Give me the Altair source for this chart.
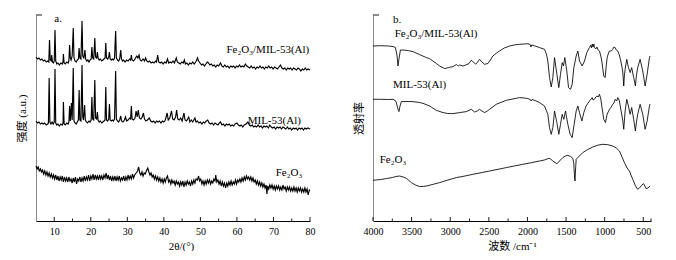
import altair as alt
import pandas as pd

FONT = "'Liberation Serif', 'Times New Roman', 'Noto Sans CJK SC', serif"

# ---------------- XRD (panel a) ----------------
xrd_composite = [
    (5.0,164),(5.4,162),(5.8,163),(6.2,161),(6.6,162),(7.0,160),(7.4,161),(7.8,159),(8.2,160),(8.5,159),
    (8.7,181),(8.9,161),(9.2,160),(9.3,166),(9.5,159),(9.8,158),(10.0,160),(10.2,191),(10.4,160),(10.7,157),
    (11.0,158),(11.4,156),(11.8,158),(12.2,157),(12.4,159),(12.5,167),(12.7,158),(13.0,157),(13.4,159),(13.8,158),
    (14.0,160),(14.2,176),(14.4,163),(14.6,161),(14.9,165),(15.2,193),(15.4,163),(15.7,160),(16.0,159),(16.3,161),
    (16.6,162),(16.8,173),(17.0,163),(17.3,162),(17.6,200),(17.8,165),(18.1,163),(18.4,171),(18.6,162),(18.9,160),
    (19.2,161),(19.5,159),(19.8,161),(20.1,162),(20.3,174),(20.5,163),(20.8,162),(21.1,183),(21.3,164),(21.6,163),
    (21.8,169),(22.0,163),(22.3,161),(22.6,162),(23.0,160),(23.3,161),(23.6,162),(23.9,163),(24.1,178),(24.3,163),
    (24.6,162),(24.9,164),(25.1,169),(25.3,162),(25.6,161),(25.9,162),(26.2,161),(26.5,163),(26.8,190),(27.0,163),
    (27.3,161),(27.6,160),(27.9,162),(28.2,171),(28.4,162),(28.7,160),(29.0,161),(29.4,159),(29.8,161),(30.2,160),
    (30.6,162),(30.9,161),(31.1,166),(31.3,161),(31.7,160),(32.1,162),(32.4,164),(32.6,165),(32.9,163),(33.2,166),
    (33.5,161),(33.9,160),(34.3,162),(34.7,160),(35.0,163),(35.3,160),(35.7,159),(36.1,160),(36.5,158),(36.9,159),
    (37.3,158),(37.7,160),(38.0,159),(38.3,166),(38.6,159),(39.0,158),(39.4,159),(39.8,157),(40.2,159),(40.6,158),
    (41.0,162),(41.3,158),(41.7,159),(42.1,158),(42.5,160),(42.9,158),(43.4,163),(43.7,159),(44.1,158),(44.5,157),
    (44.9,159),(45.3,158),(45.6,161),(45.9,157),(46.3,158),(46.7,156),(47.1,158),(47.5,157),(47.9,159),(48.3,157),
    (48.7,159),(49.0,161),(49.2,163),(49.5,160),(49.9,158),(50.3,156),(50.7,157),(51.1,155),(51.5,157),(51.9,159),
    (52.2,158),(52.6,156),(53.0,157),(53.4,155),(53.8,156),(54.2,154),(54.6,156),(55.0,155),(55.5,158),(55.9,155),
    (56.3,154),(56.7,156),(57.1,154),(57.5,155),(57.9,153),(58.3,155),(58.7,154),(59.1,155),(59.5,153),(59.9,155),
    (60.3,154),(60.7,156),(61.1,154),(61.5,155),(61.9,154),(62.3,157),(62.7,155),(63.1,154),(63.5,153),(63.9,155),
    (64.3,153),(64.7,154),(65.1,152),(65.5,154),(65.9,153),(66.3,155),(66.7,153),(67.1,154),(67.5,152),(67.9,154),
    (68.3,153),(68.7,155),(69.1,153),(69.5,154),(69.9,152),(70.3,154),(70.7,153),(71.1,152),(71.5,154),(71.9,156),
    (72.3,153),(72.7,152),(73.1,153),(73.5,151),(73.9,153),(74.3,152),(74.7,153),(75.1,151),(75.5,153),(75.9,152),
    (76.3,151),(76.7,153),(77.1,152),(77.5,150),(77.9,152),(78.3,151),(78.7,153),(79.1,151),(79.5,152),(80.0,151),
]

xrd_mil53 = [
    (5.0,100),(5.4,98),(5.8,99),(6.2,97),(6.6,98),(7.0,97),(7.4,98),(7.8,96),(8.2,97),(8.4,98),
    (8.6,143),(8.8,99),(9.1,97),(9.4,99),(9.7,97),(10.0,99),(10.2,152),(10.4,98),(10.7,96),(11.0,97),
    (11.4,95),(11.8,97),(12.2,96),(12.4,98),(12.5,119),(12.7,97),(13.0,96),(13.4,98),(13.8,97),(14.0,99),
    (14.2,115),(14.4,100),(14.7,118),(14.9,101),(15.2,153),(15.4,100),(15.7,98),(16.0,97),(16.3,99),(16.6,101),
    (16.8,131),(17.0,101),(17.3,100),(17.6,156),(17.8,104),(18.0,101),(18.3,116),(18.5,101),(18.8,99),(19.1,98),
    (19.5,100),(19.8,99),(20.1,101),(20.3,124),(20.5,102),(20.8,101),(21.1,141),(21.3,103),(21.6,102),(21.8,109),
    (22.0,101),(22.3,99),(22.6,100),(23.0,98),(23.3,99),(23.6,100),(23.9,101),(24.1,134),(24.3,101),(24.6,100),
    (24.9,102),(25.1,117),(25.3,101),(25.6,100),(25.9,101),(26.2,100),(26.5,102),(26.8,150),(27.0,102),(27.3,100),
    (27.6,99),(27.9,101),(28.2,105),(28.4,100),(28.8,99),(29.2,101),(29.5,104),(29.8,100),(30.2,101),(30.6,103),
    (30.9,102),(31.1,115),(31.3,102),(31.7,101),(32.1,103),(32.4,110),(32.7,104),(33.0,111),(33.3,103),(33.7,102),
    (34.1,104),(34.4,108),(34.7,102),(35.1,100),(35.5,101),(36.0,103),(36.4,100),(36.8,99),(37.2,100),(37.6,98),
    (38.0,100),(38.4,99),(38.8,100),(39.2,98),(39.6,100),(40.0,99),(40.4,101),(40.9,108),(41.2,101),(41.6,103),
    (42.1,110),(42.4,102),(42.8,101),(43.2,104),(43.5,111),(43.8,102),(44.2,101),(44.6,103),(45.0,100),(45.5,108),
    (45.8,101),(46.2,100),(46.8,104),(47.1,99),(47.5,101),(47.9,99),(48.5,103),(48.8,99),(49.2,100),(49.6,98),
    (50.0,99),(50.4,97),(50.8,99),(51.2,98),(51.6,100),(52.0,101),(52.4,98),(52.8,97),(53.2,98),(53.6,96),
    (54.0,98),(54.4,97),(54.8,96),(55.2,98),(55.5,99),(55.9,96),(56.3,97),(56.7,95),(57.1,97),(57.5,96),
    (57.9,97),(58.3,95),(58.7,96),(59.1,95),(59.5,97),(60.0,98),(60.4,96),(60.8,95),(61.2,96),(61.6,94),
    (62.0,96),(62.5,97),(63.0,99),(63.4,96),(63.8,95),(64.2,96),(64.6,94),(65.0,95),(65.4,94),(65.8,96),
    (66.2,94),(66.6,95),(67.0,93),(67.4,95),(67.8,94),(68.2,95),(68.6,93),(69.0,96),(69.4,94),(69.8,93),
    (70.2,94),(70.6,92),(71.0,94),(71.4,93),(71.8,94),(72.2,92),(72.6,94),(73.0,93),(73.4,92),(73.8,94),
    (74.2,92),(74.6,93),(75.0,91),(75.4,93),(75.8,92),(76.2,93),(76.6,91),(77.0,93),(77.4,92),(77.8,93),
    (78.2,91),(78.6,93),(79.0,92),(79.4,93),(80.0,92),
]

xrd_fe2o3 = [
    (5.0,55),(5.3,52),(5.6,54),(5.9,50),(6.2,52),(6.5,49),(6.8,51),(7.1,47),(7.4,50),(7.7,46),
    (8.0,49),(8.3,45),(8.6,48),(8.9,44),(9.2,47),(9.5,43),(9.8,46),(10.1,42),(10.4,46),(10.7,41),
    (11.0,45),(11.3,40),(11.6,44),(11.9,41),(12.2,45),(12.5,39),(12.8,44),(13.1,40),(13.4,43),(13.7,39),
    (14.0,44),(14.3,40),(14.6,42),(14.9,38),(15.2,43),(15.5,39),(15.8,44),(16.1,37),(16.4,42),(16.7,40),
    (17.0,44),(17.3,39),(17.6,43),(17.9,40),(18.2,45),(18.5,40),(18.8,44),(19.1,41),(19.4,46),(19.7,40),
    (20.0,45),(20.3,42),(20.6,47),(20.9,41),(21.2,46),(21.5,42),(21.8,45),(22.1,41),(22.4,46),(22.7,42),
    (23.0,45),(23.3,41),(23.6,46),(23.9,43),(24.2,48),(24.5,42),(24.8,46),(25.1,41),(25.4,45),(25.7,40),
    (26.0,44),(26.3,41),(26.6,45),(26.9,40),(27.2,44),(27.5,41),(27.8,45),(28.1,40),(28.4,43),(28.7,41),
    (29.0,45),(29.3,40),(29.6,44),(29.9,41),(30.2,46),(30.5,42),(30.8,45),(31.1,42),(31.4,47),(31.7,43),
    (32.0,46),(32.4,48),(32.8,50),(33.1,54),(33.4,48),(33.7,46),(34.0,49),(34.3,45),(34.6,48),(34.9,47),
    (35.2,50),(35.6,53),(35.9,49),(36.2,46),(36.5,48),(36.8,44),(37.1,46),(37.4,42),(37.7,45),(38.0,41),
    (38.3,44),(38.6,40),(38.9,43),(39.2,39),(39.5,42),(39.8,38),(40.1,42),(40.4,39),(40.7,43),(41.0,45),
    (41.3,39),(41.6,41),(41.9,37),(42.2,41),(42.5,38),(42.8,40),(43.1,36),(43.4,40),(43.7,37),(44.0,39),
    (44.3,35),(44.6,39),(44.9,36),(45.2,40),(45.5,34),(45.8,39),(46.1,36),(46.4,40),(46.7,37),(47.0,39),
    (47.3,35),(47.6,40),(47.9,37),(48.2,41),(48.5,38),(48.8,42),(49.2,41),(49.5,45),(49.8,40),(50.1,42),
    (50.4,37),(50.7,40),(51.0,36),(51.3,40),(51.6,37),(51.9,41),(52.2,38),(52.5,41),(52.8,37),(53.1,40),
    (53.4,38),(53.7,42),(54.0,40),(54.2,46),(54.5,39),(54.8,41),(55.1,37),(55.4,40),(55.7,35),(56.0,39),
    (56.3,35),(56.6,38),(56.9,33),(57.2,38),(57.5,35),(57.8,39),(58.1,36),(58.4,40),(58.7,36),(59.0,39),
    (59.3,37),(59.6,41),(59.9,37),(60.2,41),(60.5,39),(60.8,42),(61.1,39),(61.4,43),(61.7,40),(62.0,44),
    (62.3,41),(62.6,45),(62.9,42),(63.2,44),(63.5,41),(63.8,44),(64.1,40),(64.4,43),(64.7,39),(65.0,41),
    (65.3,37),(65.6,40),(65.9,36),(66.2,39),(66.5,35),(66.8,38),(67.1,34),(67.4,37),(67.7,33),(68.0,36),
    (68.2,27),(68.4,35),(68.7,32),(69.0,36),(69.3,33),(69.6,36),(69.9,32),(70.2,35),(70.5,31),(70.8,35),
    (71.1,32),(71.4,35),(71.7,31),(72.0,34),(72.3,31),(72.6,36),(72.9,32),(73.2,34),(73.5,30),(73.8,34),
    (74.1,31),(74.4,34),(74.7,30),(75.0,33),(75.3,30),(75.6,34),(75.9,30),(76.2,33),(76.5,29),(76.8,33),
    (77.1,30),(77.4,33),(77.7,29),(78.0,32),(78.3,29),(78.6,33),(78.9,29),(79.2,32),(79.5,26),(79.8,31),
    (80.0,30),
]

# ---------------- FTIR (panel b) ----------------
ir_composite = [
    (4000,175),(3900,175.3),(3800,175),(3740,174.5),(3710,173.5),(3690,166),(3676,155),(3662,163),(3645,171),
    (3600,171),(3540,170.3),(3483,169.4),(3400,166.5),(3309,163.4),(3270,162.5),(3224,160),(3180,157.5),
    (3137,155),(3072,152.4),(3020,153.5),(2965,154.4),(2920,156.5),(2895,155),(2878,156),(2835,155),
    (2800,156),(2758,157.4),(2727,160.7),(2700,159),(2671,156.7),(2645,159),(2620,161.7),(2590,159),
    (2555,156.7),(2512,157.5),(2480,161),(2448,165),(2400,168),(2361,170),(2300,173),(2232,175),
    (2150,176.3),(2102,176.7),(2040,177),(1995,177.3),(1965,176.5),(1955,174),(1945,176),(1900,175),
    (1843,173.4),(1779,171.7),(1755,167),(1736,160),(1714,143.4),(1692,134),(1671,143.4),(1649,163.4),
    (1619,146.7),(1594,133.4),(1572,146.7),(1550,158.4),(1533,155),(1516,163.4),(1490,150),(1468,133.4),
    (1442,131.7),(1421,136.7),(1399,153.4),(1369,165),(1347,170),(1326,160),(1291,155),(1261,160),
    (1231,168.4),(1197,173.4),(1180,176),(1170,173),(1160,177),(1150,174),(1140,177),(1132,173.4),
    (1115,172),(1100,174),(1085,171),(1067,170),(1050,165),(1037,160),(1012,145),(994,143.4),(980,155),
    (968,163.4),(950,168),(938,170),(915,170),(895,171.7),(880,174),(864,173.4),(850,171),(830,170),
    (810,166),(796,161.7),(766,150),(753,135),(745,145),(735,151.7),(714,161.7),(692,153.4),(670,148.4),
    (650,153.4),(624,143.4),(602,135),(590,145),(572,153.4),(541,161.7),(507,150),(476,135),(450,146.7),
    (420,163.4),(412,165),
]

ir_mil53 = [
    (4000,121.7),(3900,121.7),(3800,121.5),(3741,121.7),(3720,121),(3700,119),(3680,113),(3664,109.4),
    (3650,115),(3633,119.4),(3560,119.5),(3483,119.4),(3400,118.5),(3353,117.7),(3266,115),(3180,110.7),
    (3094,108.4),(3030,107.5),(2965,107.4),(2878,108.4),(2792,109.4),(2727,111.7),(2684,109),(2650,110),
    (2620,111.7),(2590,110),(2555,108.4),(2520,110),(2490,111.7),(2404,116.7),(2274,120.7),(2145,122.7),
    (2102,123.4),(2040,123),(1995,122.4),(1965,121.5),(1952,120),(1940,121.5),(1900,120.5),(1843,118.4),
    (1779,115),(1736,106.7),(1714,93.4),(1692,86.7),(1671,93.4),(1649,110),(1619,98.4),(1594,86.7),
    (1572,96.7),(1550,106.7),(1529,101.7),(1507,110),(1477,96.7),(1447,86.7),(1421,83.4),(1395,96.7),
    (1369,110),(1347,115),(1326,108.4),(1295,100),(1270,108.4),(1240,115),(1197,120),(1175,122),
    (1162,123.4),(1150,121),(1132,121.7),(1115,124),(1100,125),(1085,124),(1067,126.7),(1050,122),
    (1037,115),(1012,101.7),(990,98.4),(975,104),(968,106.7),(938,111.7),(915,114),(895,116.7),
    (880,118),(864,121.7),(845,120),(830,123.4),(809,120),(787,110),(765,100),(753,91.7),(745,100),
    (735,110),(714,121.7),(692,115),(670,106.7),(650,113.4),(624,101.7),(602,90),(590,98),(572,106.7),
    (541,116.7),(507,106.7),(476,91.7),(450,100),(420,115),(412,117),
]

ir_fe2o3 = [
    (4000,40.7),(3900,41.5),(3827,42.4),(3750,43.5),(3700,44.5),(3655,45),(3610,44),(3568,42.7),
    (3503,38.4),(3450,36),(3396,34.4),(3350,34.6),(3309,35),(3220,36.7),(3137,38.4),(3030,41),
    (2921,43.4),(2810,45),(2706,46.7),(2600,48.3),(2490,50),(2380,51.7),(2274,53.4),(2170,55),
    (2060,56.7),(1950,58.3),(1843,60),(1780,61),(1723,62.7),(1700,62),(1671,60),(1645,58.5),
    (1620,57.4),(1600,58.5),(1585,60),(1542,63.4),(1510,65),(1477,65.7),(1440,64.5),(1413,62.7),
    (1400,58),(1391,45),(1384,40),(1378,50),(1369,61.7),(1340,64),(1283,68.4),(1220,71.5),
    (1154,74),(1090,75.8),(1024,76.7),(960,76.3),(895,75),(850,73),(809,70),(780,65),(744,58.4),
    (710,53),(679,50),(660,46),(636,41.7),(600,35),(572,31.7),(550,33),(528,35),(498,37.4),
    (480,35),(463,32.4),(440,33),(411,35),
]

# tick values
xrd_major = [10, 20, 30, 40, 50, 60, 70, 80]
xrd_minor = [15, 25, 35, 45, 55, 65, 75]
ir_major = [4000, 3500, 3000, 2500, 2000, 1500, 1000, 500]
ir_minor = [3750, 3250, 2750, 2250, 1750, 1250, 750, 400]

# series labels (positions in data units)
xrd_label_text = ["a.", "Fe\u2082O\u2083/MIL-53(Al)", "MIL-53(Al)", "Fe\u2082O\u2083"]
xrd_label_x = [10.0, 79.8, 77.5, 77.9]
xrd_label_y = [202.5, 171, 100, 48.5]
xrd_label_align = ["left", "right", "right", "right"]

ir_label_text = ["b.", "Fe\u2082O\u2083/MIL-53(Al)", "MIL-53(Al)", "Fe\u2082O\u2083"]
ir_label_x = [3741, 3719, 3741, 3913]
ir_label_y = [201.5, 187, 136, 61.5]


def frame(series_dict):
    rows = []
    for name, pts in series_dict.items():
        for x, y in pts:
            rows.append({"x": x, "y": y, "series": name})
    return pd.DataFrame(rows)


W_L, W_R, H = 274, 278, 206
yscale = alt.Scale(domain=[0, 206], nice=False, zero=False)


def panel(df, xscale, xaxis, ytitle, major, minor, lab_df, width, stroke):
    X = alt.X("x:Q", scale=xscale, axis=xaxis)
    Y = alt.Y("y:Q", scale=yscale,
              axis=alt.Axis(labels=False, ticks=False, tickSize=0, grid=False, title=ytitle,
                            titleFontSize=11, titleFontWeight="normal", titleFont=FONT,
                            titlePadding=9, titleColor="black"))
    lines = alt.Chart(df).mark_line(color="black", strokeWidth=stroke).encode(
        x=X, y=Y, detail="series:N")
    tmaj = alt.Chart(pd.DataFrame({"x": major})).mark_rule(color="black", strokeWidth=0.9).encode(
        x=X, y=alt.value(H), y2=alt.value(H - 4))
    tmin = alt.Chart(pd.DataFrame({"x": minor})).mark_rule(color="black", strokeWidth=0.9).encode(
        x=X, y=alt.value(H), y2=alt.value(H - 2.5))
    corner = alt.Chart(pd.DataFrame({"y": [206]})).mark_rule(color="black", strokeWidth=0.9).encode(
        y=alt.Y("y:Q", scale=yscale), x=alt.value(0), x2=alt.value(6))
    texts = []
    for al in ["left", "right"]:
        sub = lab_df[lab_df["align"] == al]
        if len(sub):
            texts.append(alt.Chart(sub).mark_text(align=al, baseline="middle", font=FONT,
                                                  fontSize=11, color="black").encode(
                x=X, y=alt.Y("y:Q", scale=yscale), text="t:N"))
    return alt.layer(lines, tmaj, tmin, corner, *texts).properties(width=width, height=H)


xrd_df = frame({"comp": xrd_composite, "mil": xrd_mil53, "fe": xrd_fe2o3})
ir_df = frame({"comp": ir_composite, "mil": ir_mil53, "fe": ir_fe2o3})

xrd_lab = pd.DataFrame({"t": xrd_label_text, "x": xrd_label_x, "y": xrd_label_y,
                        "align": xrd_label_align})
ir_lab = pd.DataFrame({"t": ir_label_text, "x": ir_label_x, "y": ir_label_y,
                       "align": ["left"] * 4})

axis_common = dict(grid=False, ticks=False, tickSize=0, labelFontSize=10, labelFont=FONT,
                   labelColor="black", labelPadding=5, titleFont=FONT, titleFontSize=11,
                   titleFontWeight="normal", titleColor="black", titlePadding=4,
                   domainColor="black", labelFlush=False)

left = panel(
    xrd_df,
    alt.Scale(domain=[5, 80], nice=False, zero=False),
    alt.Axis(values=xrd_major, title="2\u03b8/(\u00b0)", titleX=145, **axis_common),
    "强度 (a.u.)", xrd_major, xrd_minor, xrd_lab, W_L, 1.15)

right = panel(
    ir_df,
    alt.Scale(domain=[400, 4000], reverse=True, nice=False, zero=False),
    alt.Axis(values=ir_major, title="波数 /cm\u207b\u00b9", format="d", **axis_common),
    "透射率", ir_major, ir_minor, ir_lab, W_R, 0.85)

chart = alt.hconcat(left, right, spacing=63, bounds="flush").properties(
    padding={"left": 16, "top": 12, "right": 0, "bottom": 0}
).configure_view(stroke=None).configure_axis(domainWidth=1)

chart.save("out.html", embed_options={"renderer": "svg", "actions": False})
